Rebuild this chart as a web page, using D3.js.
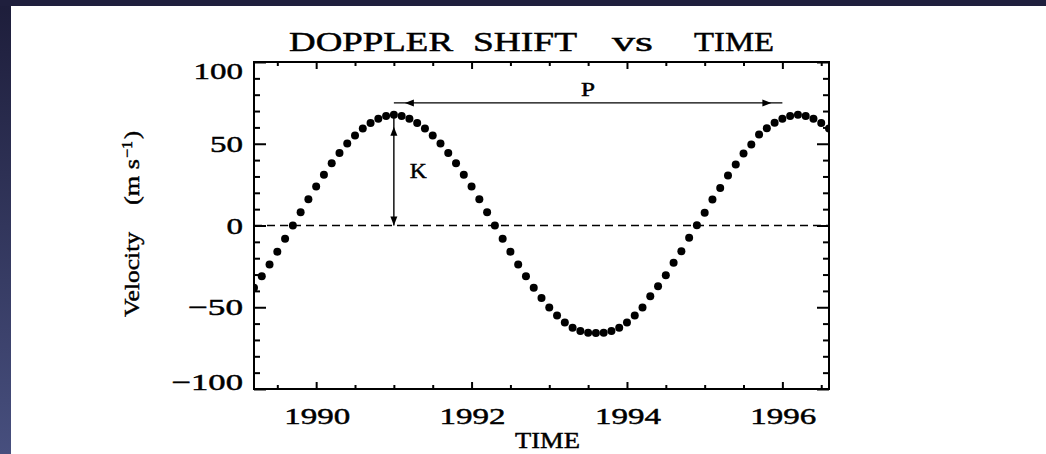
<!DOCTYPE html>
<html>
<head>
<meta charset="utf-8">
<script src="https://cdn.jsdelivr.net/npm/d3@7"></script>
<style>
  html, body { margin: 0; padding: 0; background: #fff; }
  svg { display: block; }
  text { font-family: "Liberation Serif", "DejaVu Serif", serif; fill: #000; stroke: #000; stroke-width: 0.45; }
</style>
</head>
<body>
<svg id="chart" width="1046" height="454"></svg>
<script>
// Radial-velocity samples (year, m/s)
const times = [1989.2,1989.3,1989.4,1989.5,1989.6,1989.7,1989.8,1989.9,1990.0,1990.1,
  1990.2,1990.3,1990.4,1990.5,1990.6,1990.7,1990.8,1990.9,1991.0,1991.1,
  1991.2,1991.3,1991.4,1991.5,1991.6,1991.7,1991.8,1991.9,1992.0,1992.1,
  1992.2,1992.3,1992.4,1992.5,1992.6,1992.7,1992.8,1992.9,1993.0,1993.1,
  1993.2,1993.3,1993.4,1993.5,1993.6,1993.7,1993.8,1993.9,1994.0,1994.1,
  1994.2,1994.3,1994.4,1994.5,1994.6,1994.7,1994.8,1994.9,1995.0,1995.1,
  1995.2,1995.3,1995.4,1995.5,1995.6,1995.7,1995.8,1995.9,1996.0,1996.1,
  1996.2,1996.3,1996.4,1996.5,1996.6];
const velocity = [-38.1,-31.1,-23.8,-16.0,-8.1,0.0,8.1,16.0,23.8,31.1,
  38.1,44.4,50.2,55.1,59.3,62.7,65.3,66.9,67.8,67.0,
  65.3,62.7,59.3,55.1,50.2,44.4,38.1,31.1,23.8,16.0,
  8.1,0.0,-8.1,-16.0,-23.8,-31.1,-38.1,-44.4,-50.2,-55.1,
  -59.3,-62.5,-64.6,-65.6,-65.8,-65.6,-64.6,-62.5,-59.3,-55.1,
  -50.2,-43.2,-37.1,-30.4,-22.8,-15.7,-7.5,0.2,7.8,15.9,
  23.0,30.6,37.3,44.0,49.5,55.7,59.5,62.9,65.3,66.9,
  67.8,67.0,65.3,62.7,59.3];

// Axis ticks
const xMajorTicks = [1990, 1992, 1994, 1996];
const xMinorTicks = [1989.5,1990.5,1991,1991.5,1992.5,1993,1993.5,1994.5,1995,1995.5,1996.5];
const yMajorTicks = [-100, -50, 0, 50, 100];
const yMinorTicks = [-90,-80,-70,-60,-40,-30,-20,-10,10,20,30,40,60,70,80,90];

// Annotations: period and semi-amplitude
const periodStart = 1991.0, periodEnd = 1996.0, periodLevel = 75;
const amplitudeTime = 1991.0, amplitudeTop = 67.8;

const svg = d3.select("#chart");
const W = 1046, H = 454;

// Dark frame around the slide
const defs = svg.append("defs");
const grad = defs.append("linearGradient").attr("id", "edge").attr("x1", 0).attr("y1", 0).attr("x2", 0).attr("y2", 1);
grad.append("stop").attr("offset", "0%").attr("stop-color", "#1d1d3a");
grad.append("stop").attr("offset", "100%").attr("stop-color", "#474f7e");
svg.append("rect").attr("width", W).attr("height", H).attr("fill", "url(#edge)");
svg.append("rect").attr("x", 11).attr("y", 6).attr("width", W - 11).attr("height", H - 6).attr("fill", "#fff");
svg.append("rect").attr("x", 0).attr("y", 0).attr("width", W).attr("height", 6).attr("fill", "#1f1f3d");

const plot = { left: 254, right: 829, top: 62, bottom: 389 };
const x = d3.scaleLinear().domain([1989.2, 1996.6]).range([plot.left, plot.right]);
const y = d3.scaleLinear().domain([-100, 100]).range([plot.bottom, plot.top]);

defs.append("clipPath").attr("id", "plotClip")
  .append("rect").attr("x", plot.left).attr("y", plot.top)
  .attr("width", plot.right - plot.left).attr("height", plot.bottom - plot.top);

// Ticks pointing into the plot on all four sides
function tickAxis(axis, tx, ty, values, size) {
  const g = svg.append("g").attr("transform", `translate(${tx},${ty})`)
    .call(axis.tickValues(values).tickSize(size).tickSizeOuter(0).tickFormat(""));
  g.select(".domain").remove();
  g.selectAll(".tick line").attr("stroke", "#000").attr("stroke-width", 2);
  return g;
}
tickAxis(d3.axisBottom(x), 0, plot.bottom, xMajorTicks, -7);
tickAxis(d3.axisBottom(x), 0, plot.bottom, xMinorTicks, -4);
tickAxis(d3.axisTop(x), 0, plot.top, xMajorTicks, -7);
tickAxis(d3.axisTop(x), 0, plot.top, xMinorTicks, -4);
tickAxis(d3.axisLeft(y), plot.left, 0, yMajorTicks, -12);
tickAxis(d3.axisLeft(y), plot.left, 0, yMinorTicks, -6);
tickAxis(d3.axisRight(y), plot.right, 0, yMajorTicks, -12);
tickAxis(d3.axisRight(y), plot.right, 0, yMinorTicks, -6);

svg.append("rect").attr("x", plot.left).attr("y", plot.top)
  .attr("width", plot.right - plot.left).attr("height", plot.bottom - plot.top)
  .attr("fill", "none").attr("stroke", "#000").attr("stroke-width", 2);

// Stretched text helper (wide stroke-font look)
function wideText(parent, str, x0, baseline, size, perChar) {
  const len = perChar(str);
  return parent.append("text").attr("x", x0).attr("y", baseline)
    .attr("font-size", size).attr("textLength", len)
    .attr("lengthAdjust", "spacingAndGlyphs").text(str);
}
const numWidth = s => s.replace("\u2212", "").length * 16.5 + (s.startsWith("\u2212") ? 22 : 0);

// Tick labels
const fmt = v => (v < 0 ? "\u2212" : "") + Math.abs(v);
xMajorTicks.forEach(v => {
  const s = String(v), w = numWidth(s);
  wideText(svg, s, x(v) - w / 2 + 1, 424, 23, numWidth);
});
yMajorTicks.forEach(v => {
  const s = fmt(v), w = numWidth(s);
  let base = y(v) + 8;
  base = Math.max(base, plot.top + 17);
  base = Math.min(base, plot.bottom + 1);
  wideText(svg, s, 243 - w, base, 23, numWidth);
});

// Title
const titleWords = [["DOPPLER", 289, 164], ["SHIFT", 473, 104], ["vs", 612, 41], ["TIME", 694, 80]];
titleWords.forEach(([w, x0, len]) => wideText(svg, w, x0, 51, 27, () => len));

// Axis titles
wideText(svg, "TIME", 515, 448, 23, () => 65);
const yt = svg.append("g").attr("transform", "translate(138.5,0) rotate(-90)");
wideText(yt, "Velocity", -317, 0, 22, () => 85);
wideText(yt, "(m s", -205, 0, 22, () => 46);
wideText(yt, "\u22121", -158, -7, 15, () => 17);
wideText(yt, ")", -139, 0, 22, () => 8);

// Zero line
svg.append("line").attr("x1", plot.left).attr("x2", plot.right)
  .attr("y1", y(0)).attr("y2", y(0))
  .attr("stroke", "#000").attr("stroke-width", 1.6).attr("stroke-dasharray", "8,5");

// Data points
svg.append("g").attr("clip-path", "url(#plotClip)")
  .selectAll("circle").data(times).join("circle")
  .attr("cx", d => x(d)).attr("cy", (d, i) => y(velocity[i]))
  .attr("r", 4).attr("fill", "#000");

// Arrow helper: filled head with its tip at (px, py), pointing along (dx, dy)
function head(px, py, dx, dy) {
  const L = 9, Wd = 3.5;
  const bx = px - dx * L, by = py - dy * L;
  const nx = -dy, ny = dx;
  svg.append("path")
    .attr("d", `M${px},${py}L${bx + nx * Wd},${by + ny * Wd}L${bx - nx * Wd},${by - ny * Wd}Z`)
    .attr("fill", "#000");
}
// Period arrow
svg.append("line").attr("x1", x(periodStart)).attr("x2", x(periodEnd))
  .attr("y1", y(periodLevel)).attr("y2", y(periodLevel))
  .attr("stroke", "#000").attr("stroke-width", 1.4);
head(x(periodStart) + 11, y(periodLevel), -1, 0);
head(x(periodEnd) - 11, y(periodLevel), 1, 0);
wideText(svg, "P", x((periodStart + periodEnd) / 2) - 7, y(periodLevel) - 7, 19, () => 14);

// Semi-amplitude arrow
svg.append("line").attr("x1", x(amplitudeTime)).attr("x2", x(amplitudeTime))
  .attr("y1", y(amplitudeTop)).attr("y2", y(0))
  .attr("stroke", "#000").attr("stroke-width", 1.4);
head(x(amplitudeTime), y(amplitudeTop) + 12, 0, -1);
head(x(amplitudeTime), y(0), 0, 1);
wideText(svg, "K", x(amplitudeTime) + 16, y(amplitudeTop / 2) + 8, 21, () => 17);
</script>
</body>
</html>
